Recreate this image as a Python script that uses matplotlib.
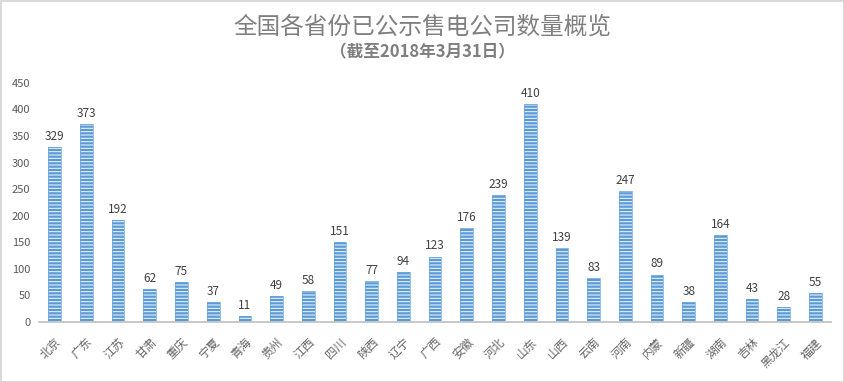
import matplotlib
matplotlib.use("Agg")
import matplotlib.pyplot as plt

provinces = ["北京", "广东", "江苏", "甘肃", "重庆", "宁夏", "青海", "贵州", "江西", "四川",
             "陕西", "辽宁", "广西", "安徽", "河北", "山东", "山西", "云南", "河南", "内蒙",
             "新疆", "湖南", "吉林", "黑龙江", "福建"]
counts = [329, 373, 192, 62, 75, 37, 11, 49, 58, 151,
          77, 94, 123, 176, 239, 410, 139, 83, 247, 89,
          38, 164, 43, 28, 55]
yticks = [0, 50, 100, 150, 200, 250, 300, 350, 400, 450]

plt.rcParams['font.family'] = ['Noto Sans CJK SC', 'DejaVu Sans']
plt.rcParams['hatch.linewidth'] = 0.8

fig = plt.figure(figsize=(8.44, 3.82), dpi=100)
fig.patch.set_edgecolor('#d9d9d9')
fig.patch.set_linewidth(2)
ax = fig.add_axes([0.046, 0.157, 0.939, 0.626])

x = list(range(len(provinces)))
ax.bar(x, counts, width=0.4, color='#5B9BD5', edgecolor='#e6f0fa',
       linewidth=0, hatch='-----')
ax.bar(x, counts, width=0.4, fill=False, edgecolor='#6aa5dc', linewidth=0.5)
for xi, v in zip(x, counts):
    ax.text(xi, v + 8, str(v), ha='center', va='bottom', fontsize=8.5, color='#404040')

ax.set_xlim(-0.5, len(provinces) - 0.5)
ax.set_ylim(0, 450)
ax.set_yticks(yticks)
ax.set_xticks(x)
ax.set_xticklabels(provinces, rotation=45, ha='right', rotation_mode='anchor',
                   fontsize=8.5, color='#666666')
ax.tick_params(axis='y', length=0, labelsize=8, labelcolor='#595959', pad=6)
ax.tick_params(axis='x', length=0, pad=10)
for s in ['top', 'right', 'left']:
    ax.spines[s].set_visible(False)
ax.spines['bottom'].set_color('#bfbfbf')
ax.spines['bottom'].set_linewidth(1.2)

title = "全国各省份已公示售电公司数量概览"
fig.text(0.5, 0.928, title, ha='center', va='center',
         fontsize=17, color='#7f7f7f', fontweight='medium')
fig.text(0.5, 0.862, "（截至2018年3月31日）", ha='center', va='center',
         fontsize=12, color='#7f7f7f', fontweight='bold')

fig.savefig("out.png", dpi=100)
